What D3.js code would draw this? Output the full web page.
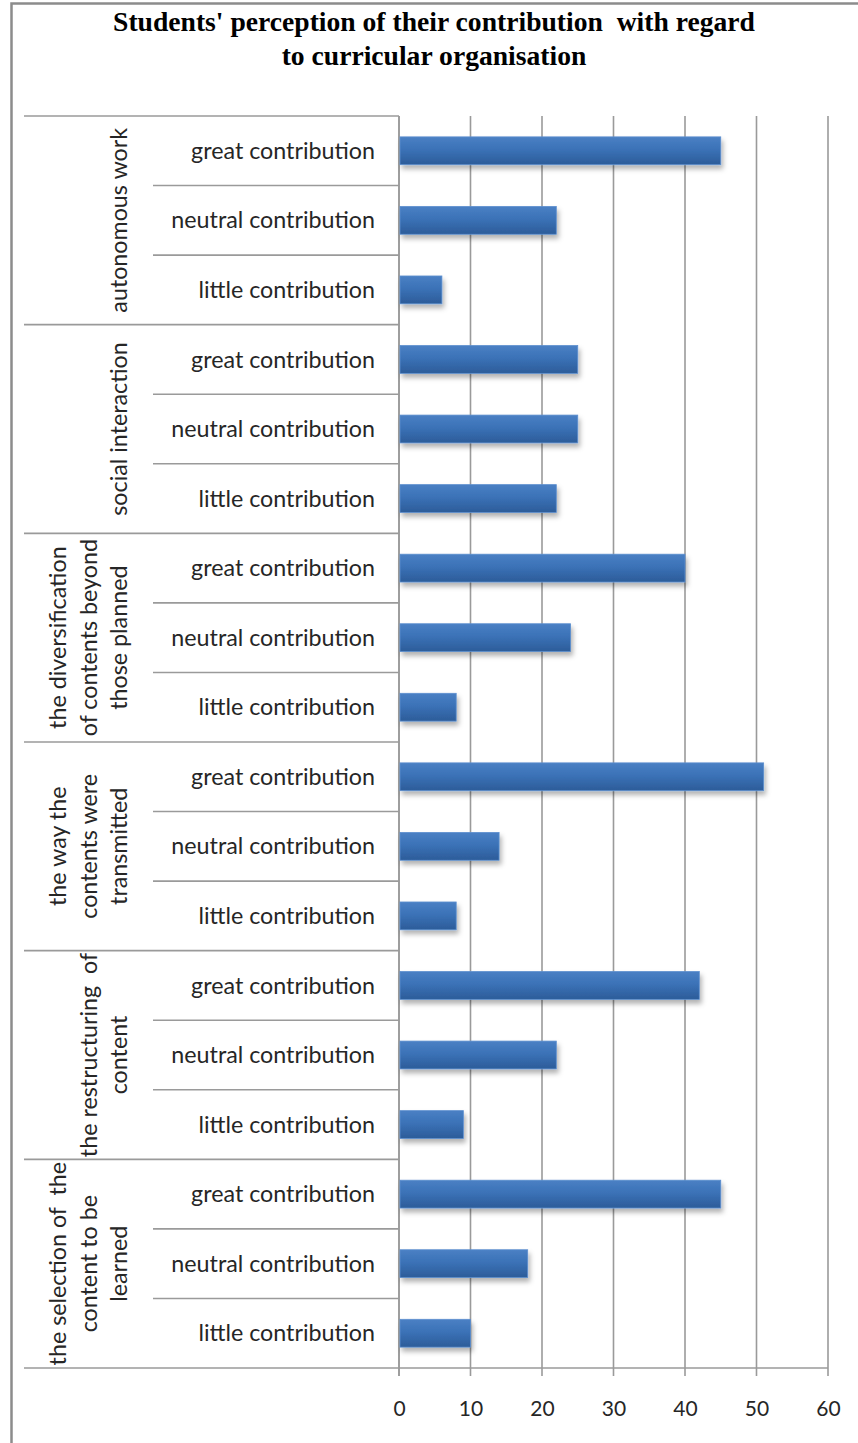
<!DOCTYPE html>
<html>
<head>
<meta charset="utf-8">
<script src="https://cdn.jsdelivr.net/npm/d3@7"></script>
<style>
  html, body { margin: 0; padding: 0; background: #fff; }
  svg { display: block; }
</style>
</head>
<body>
<svg id="chart" width="858" height="1443"></svg>
<script>
// ---- data ----
const groupLabels = [
  ["autonomous work"],
  ["social interaction"],
  ["the diversification", "of contents beyond", "those planned"],
  ["the way the", "contents were", "transmitted"],
  ["the restructuring  of", "content"],
  ["the selection of  the", "content to be", "learned"]
];
const levels = ["great contribution", "neutral contribution", "little contribution"];
const greatValues   = [45, 25, 40, 51, 42, 45];
const neutralValues = [22, 25, 24, 14, 22, 18];
const littleValues  = [6, 22, 8, 8, 9, 10];
const tickValues = [0, 10, 20, 30, 40, 50, 60];
const titleLines = ["Students' perception of their contribution  with regard", "to curricular organisation"];

// ---- build ----
const groupKeys = groupLabels.map(d => d.join(" "));
const seriesByLevel = [greatValues, neutralValues, littleValues];
const rows = [];
groupKeys.forEach((g, gi) => {
  levels.forEach((l, li) => rows.push({ group: g, level: l, value: seriesByLevel[li][gi] }));
});

const svg = d3.select("#chart");
const plotTop = 116, plotBottom = 1368, plotLeft = 399, plotRight = 828;
const tableLeft = 24, innerLeft = 153;
const lineCol = "#9a9a9a";
const sansFont = "Lato, 'Open Sans', sans-serif";
const textCol = "#262626";

// fit a font size so that a sample string reaches a target width
function fitSize(sample, family, weight, target, base) {
  const t = svg.append("text").attr("font-family", family).attr("font-weight", weight)
    .attr("font-size", base).style("white-space", "pre").text(sample);
  const w = t.node().getComputedTextLength();
  t.remove();
  return base * target / w;
}
const labelSize = fitSize("great contribution", sansFont, "normal", 184, 20);
const titleSize = fitSize(titleLines[0], "'Liberation Serif', serif", "bold", 642, 23);

const x = d3.scaleLinear().domain([0, 60]).range([plotLeft, plotRight]);
const yGroup = d3.scaleBand().domain(groupKeys).range([plotTop, plotBottom]);
const yRow = d3.scaleBand().domain(levels).range([0, yGroup.bandwidth()]).paddingInner(0.6).paddingOuter(0.3);

// defs
const defs = svg.append("defs");
const grad = defs.append("linearGradient").attr("id", "barGrad").attr("x1", 0).attr("y1", 0).attr("x2", 0).attr("y2", 1);
grad.append("stop").attr("offset", "0%").attr("stop-color", "#4a80c4");
grad.append("stop").attr("offset", "45%").attr("stop-color", "#3b72b7");
grad.append("stop").attr("offset", "100%").attr("stop-color", "#2c5c99");
const filt = defs.append("filter").attr("id", "shadow").attr("x", "-10%").attr("y", "-30%").attr("width", "130%").attr("height", "180%");
filt.append("feDropShadow").attr("dx", 2).attr("dy", 4).attr("stdDeviation", 2.5).attr("flood-color", "#000").attr("flood-opacity", 0.3);

// frame
svg.append("path").attr("d", `M11.5,1443 V3.5 H858`).attr("fill", "none").attr("stroke", "#8c8c8c").attr("stroke-width", 2.5);

// title
svg.append("g").selectAll("text").data(titleLines).join("text")
  .attr("x", 434).attr("y", (d, i) => 31 + i * 34)
  .attr("text-anchor", "middle")
  .attr("font-family", "'Liberation Serif', 'Times New Roman', serif")
  .attr("font-weight", "bold").attr("font-size", titleSize)
  .attr("fill", "#000")
  .style("white-space", "pre")
  .text(d => d);

// gridlines
svg.append("g").selectAll("line").data(tickValues).join("line")
  .attr("x1", d => x(d)).attr("x2", d => x(d))
  .attr("y1", plotTop).attr("y2", plotBottom + 8)
  .attr("stroke", lineCol).attr("stroke-width", 1.6);

// x axis line
svg.append("line").attr("x1", plotLeft).attr("x2", plotRight).attr("y1", plotBottom).attr("y2", plotBottom)
  .attr("stroke", lineCol).attr("stroke-width", 1.6);

// tick labels via d3 axis
const axisG = svg.append("g").attr("transform", `translate(0,${plotBottom})`)
  .call(d3.axisBottom(x).tickValues(tickValues).tickSize(0).tickPadding(33));
axisG.select(".domain").remove();
axisG.selectAll("text").attr("font-family", sansFont).attr("font-size", 21).attr("fill", textCol);

// table lines: group boundaries
const groupBounds = groupKeys.map(g => yGroup(g)).concat([plotBottom]);
svg.append("g").selectAll("line").data(groupBounds).join("line")
  .attr("x1", tableLeft).attr("x2", plotLeft)
  .attr("y1", d => d).attr("y2", d => d)
  .attr("stroke", lineCol).attr("stroke-width", 1.6);
// row boundaries
const rowStep = yGroup.bandwidth() / levels.length;
const rowBounds = [];
groupKeys.forEach(g => {
  for (let i = 1; i < levels.length; i++) rowBounds.push(yGroup(g) + rowStep * i);
});
svg.append("g").selectAll("line").data(rowBounds).join("line")
  .attr("x1", innerLeft).attr("x2", plotLeft)
  .attr("y1", d => d).attr("y2", d => d)
  .attr("stroke", lineCol).attr("stroke-width", 1.6);
// y axis line
svg.append("line").attr("x1", plotLeft).attr("x2", plotLeft).attr("y1", plotTop).attr("y2", plotBottom + 8)
  .attr("stroke", lineCol).attr("stroke-width", 1.6);

// bars
svg.append("g").selectAll("rect").data(rows).join("rect")
  .attr("x", x(0) + 1)
  .attr("y", d => yGroup(d.group) + yRow(d.level))
  .attr("width", d => x(d.value) - x(0) - 1)
  .attr("height", yRow.bandwidth())
  .attr("fill", "url(#barGrad)")
  .attr("stroke", "#5d8fcf").attr("stroke-width", 0.8)
  .attr("filter", "url(#shadow)");

// row labels
svg.append("g").selectAll("text").data(rows).join("text")
  .attr("x", 375)
  .attr("y", d => yGroup(d.group) + rowStep * (levels.indexOf(d.level) + 0.5))
  .attr("dy", "0.35em")
  .attr("text-anchor", "end")
  .attr("font-family", sansFont)
  .attr("font-size", labelSize).attr("fill", textCol)
  .text(d => d.level);

// group labels (rotated)
const lineGap = 30.5;
const gl = svg.append("g").selectAll("g").data(groupLabels).join("g")
  .attr("transform", (d, i) => `translate(118,${yGroup(groupKeys[i]) + yGroup.bandwidth() / 2})`);
gl.selectAll("text").data(d => d.map((t, i) => ({ t, i, n: d.length }))).join("text")
  .attr("transform", d => `translate(${-(d.n - 1 - d.i) * lineGap},0) rotate(-90)`)
  .attr("text-anchor", "middle")
  .attr("dominant-baseline", "central")
  .attr("font-family", sansFont)
  .attr("font-size", labelSize).attr("fill", textCol)
  .style("white-space", "pre")
  .text(d => d.t);
</script>
</body>
</html>
